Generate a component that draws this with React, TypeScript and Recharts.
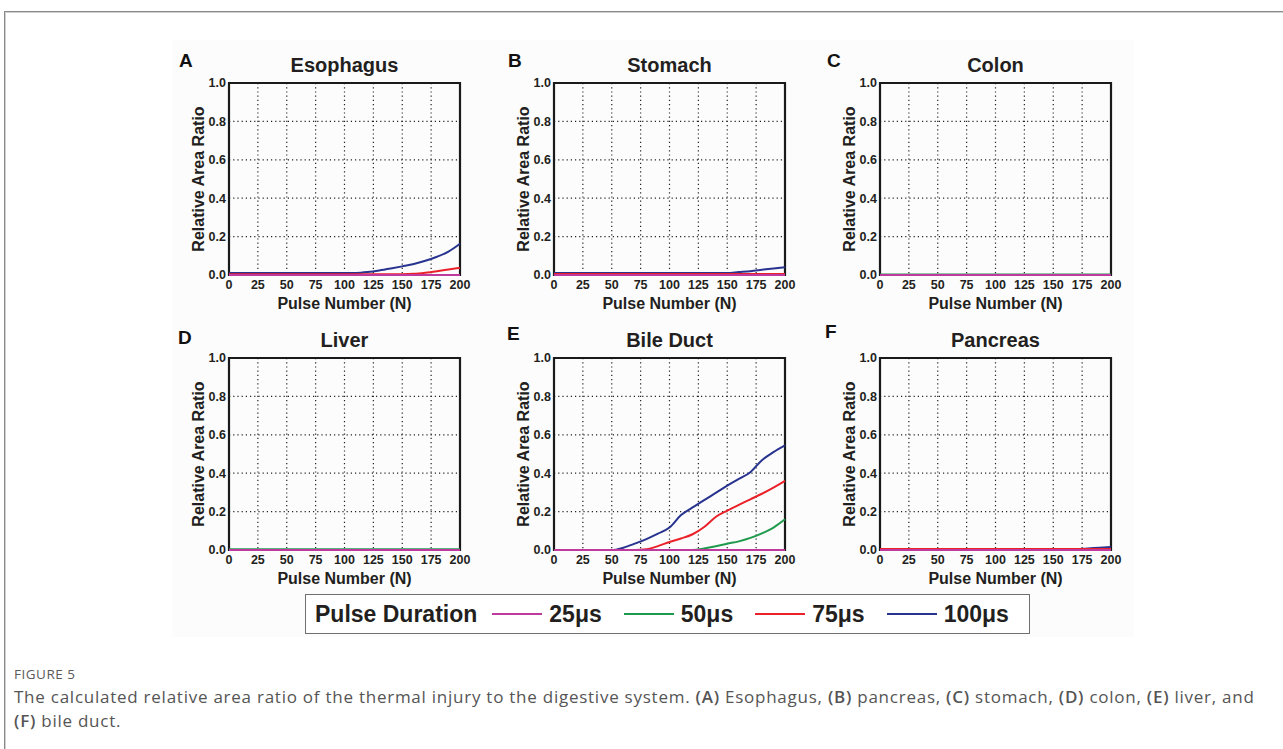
import React from "react";
import { LineChart, Line, XAxis, YAxis, CartesianGrid, ReferenceArea } from "recharts";

// pulse numbers sampled along the x axis
const pulseNumbers = [0, 10, 20, 30, 40, 50, 60, 70, 80, 90, 100, 110, 120, 130, 140, 150, 160, 170, 180, 190, 200];
const xTicks = [0, 25, 50, 75, 100, 125, 150, 175, 200];
const yTicks = [0, 0.2, 0.4, 0.6, 0.8, 1.0];

const durations = ["25μs", "50μs", "75μs", "100μs"];
const durationColors = ["#bf3a9e", "#1f9a4c", "#ea2129", "#27338f"];

// (A) Esophagus
const esophagus25 = [0, 0, 0, 0, 0, 0, 0, 0, 0, 0, 0, 0, 0, 0, 0, 0, 0, 0, 0, 0, 0];
const esophagus50 = [0, 0, 0, 0, 0, 0, 0, 0, 0, 0, 0, 0, 0, 0, 0, 0, 0, 0, 0, 0, 0];
const esophagus75 = [0.004, 0.004, 0.004, 0.004, 0.004, 0.004, 0.004, 0.004, 0.004, 0.004, 0.004, 0.004, 0.004, 0.004, 0.004, 0.004, 0.006, 0.012, 0.02, 0.029, 0.038];
const esophagus100 = [0.01, 0.01, 0.01, 0.01, 0.01, 0.01, 0.01, 0.01, 0.01, 0.01, 0.01, 0.011, 0.016, 0.024, 0.034, 0.045, 0.057, 0.074, 0.095, 0.122, 0.163];

// (B) Stomach
const stomach25 = [0, 0, 0, 0, 0, 0, 0, 0, 0, 0, 0, 0, 0, 0, 0, 0, 0, 0, 0, 0, 0];
const stomach50 = [0, 0, 0, 0, 0, 0, 0, 0, 0, 0, 0, 0, 0, 0, 0, 0, 0, 0, 0, 0, 0];
const stomach75 = [0.005, 0.005, 0.005, 0.005, 0.005, 0.005, 0.005, 0.005, 0.005, 0.005, 0.005, 0.005, 0.005, 0.005, 0.005, 0.005, 0.005, 0.005, 0.005, 0.005, 0.005];
const stomach100 = [0.01, 0.01, 0.01, 0.01, 0.01, 0.01, 0.01, 0.01, 0.01, 0.01, 0.01, 0.01, 0.01, 0.01, 0.01, 0.01, 0.015, 0.02, 0.027, 0.034, 0.04];

// (C) Colon
const colon25 = [0, 0, 0, 0, 0, 0, 0, 0, 0, 0, 0, 0, 0, 0, 0, 0, 0, 0, 0, 0, 0];
const colon50 = [0.003, 0.003, 0.003, 0.003, 0.003, 0.003, 0.003, 0.003, 0.003, 0.003, 0.003, 0.003, 0.003, 0.003, 0.003, 0.003, 0.003, 0.003, 0.003, 0.003, 0.003];
const colon75 = [0, 0, 0, 0, 0, 0, 0, 0, 0, 0, 0, 0, 0, 0, 0, 0, 0, 0, 0, 0, 0];
const colon100 = [0, 0, 0, 0, 0, 0, 0, 0, 0, 0, 0, 0, 0, 0, 0, 0, 0, 0, 0, 0, 0];

// (D) Liver
const liver25 = [0, 0, 0, 0, 0, 0, 0, 0, 0, 0, 0, 0, 0, 0, 0, 0, 0, 0, 0, 0, 0];
const liver50 = [0.004, 0.004, 0.004, 0.004, 0.004, 0.004, 0.004, 0.004, 0.004, 0.004, 0.004, 0.004, 0.004, 0.004, 0.004, 0.004, 0.004, 0.004, 0.004, 0.004, 0.004];
const liver75 = [0, 0, 0, 0, 0, 0, 0, 0, 0, 0, 0, 0, 0, 0, 0, 0, 0, 0, 0, 0, 0];
const liver100 = [0, 0, 0, 0, 0, 0, 0, 0, 0, 0, 0, 0, 0, 0, 0, 0, 0, 0, 0, 0, 0];

// (E) Bile duct
const bileDuct25 = [0, 0, 0, 0, 0, 0, 0, 0, 0, 0, 0, 0, 0, 0, 0, 0, 0, 0, 0, 0, 0];
const bileDuct50 = [0, 0, 0, 0, 0, 0, 0, 0, 0, 0, 0, 0, 0, 0.008, 0.02, 0.033, 0.045, 0.063, 0.087, 0.117, 0.16];
const bileDuct75 = [0, 0, 0, 0, 0, 0, 0, 0, 0.004, 0.02, 0.042, 0.06, 0.082, 0.12, 0.172, 0.205, 0.235, 0.264, 0.293, 0.325, 0.36];
const bileDuct100 = [0, 0, 0, 0, 0, 0, 0.012, 0.033, 0.057, 0.085, 0.117, 0.182, 0.222, 0.26, 0.297, 0.335, 0.37, 0.405, 0.468, 0.51, 0.545];

// (F) Pancreas
const pancreas25 = [0, 0, 0, 0, 0, 0, 0, 0, 0, 0, 0, 0, 0, 0, 0, 0, 0, 0, 0, 0, 0];
const pancreas50 = [0, 0, 0, 0, 0, 0, 0, 0, 0, 0, 0, 0, 0, 0, 0, 0, 0, 0, 0, 0, 0];
const pancreas75 = [0.005, 0.005, 0.005, 0.005, 0.005, 0.005, 0.005, 0.005, 0.005, 0.005, 0.005, 0.005, 0.005, 0.005, 0.005, 0.005, 0.005, 0.005, 0.005, 0.005, 0.005];
const pancreas100 = [0.005, 0.005, 0.005, 0.005, 0.005, 0.005, 0.005, 0.005, 0.005, 0.005, 0.005, 0.005, 0.005, 0.005, 0.005, 0.005, 0.005, 0.005, 0.008, 0.012, 0.015];

const panelLetters = ["A", "B", "C", "D", "E", "F"];
const panelTitles = ["Esophagus", "Stomach", "Colon", "Liver", "Bile Duct", "Pancreas"];
const panelSeries = [
  [esophagus25, esophagus50, esophagus75, esophagus100],
  [stomach25, stomach50, stomach75, stomach100],
  [colon25, colon50, colon75, colon100],
  [liver25, liver50, liver75, liver100],
  [bileDuct25, bileDuct50, bileDuct75, bileDuct100],
  [pancreas25, pancreas50, pancreas75, pancreas100],
];

// layout (page pixels)
const plotLefts = [229, 554, 880];
const plotTops = [83, 358];
const PLOT_W = 231;
const PLOT_H = 192;
const Y_AXIS_W = 70;
const X_AXIS_H = 55;
const TOP_PAD = 45;
const RIGHT_PAD = 15;
const letterSpots = [
  { left: 179, top: 51 },
  { left: 508, top: 51 },
  { left: 827, top: 51 },
  { left: 178, top: 328 },
  { left: 507, top: 324 },
  { left: 825, top: 322 },
];

const FONT = "'Liberation Sans', Arial, sans-serif";
const INK = "#231f20";

const seriesKeys = ["d25", "d50", "d75", "d100"];

function Panel({ index }: { index: number }) {
  const col = index % 3;
  const row = Math.floor(index / 3);
  const plotLeft = plotLefts[col];
  const plotTop = plotTops[row];
  const series = panelSeries[index];
  const data = pulseNumbers.map((x, i) => ({
    x,
    d25: series[0][i],
    d50: series[1][i],
    d75: series[2][i],
    d100: series[3][i],
  }));
  const tickStyle = { fill: INK, fontSize: 12.5, fontWeight: 700, fontFamily: FONT };

  return (
    <>
      <div
        style={{
          position: "absolute",
          left: letterSpots[index].left,
          top: letterSpots[index].top,
          fontFamily: FONT,
          fontWeight: 700,
          fontSize: 19,
          lineHeight: "20px",
          color: "#111",
        }}
      >
        {panelLetters[index]}
      </div>
      <div
        style={{
          position: "absolute",
          left: plotLeft,
          width: PLOT_W,
          top: plotTop - 30,
          textAlign: "center",
          fontFamily: FONT,
          fontWeight: 700,
          fontSize: 20,
          lineHeight: "24px",
          color: INK,
        }}
      >
        {panelTitles[index]}
      </div>
      <div style={{ position: "absolute", left: plotLeft - Y_AXIS_W, top: plotTop - TOP_PAD }}>
        <LineChart
          width={Y_AXIS_W + PLOT_W + RIGHT_PAD}
          height={TOP_PAD + PLOT_H + X_AXIS_H}
          data={data}
          margin={{ top: TOP_PAD, right: RIGHT_PAD, bottom: 0, left: 0 }}
        >
          <CartesianGrid stroke="#222" strokeWidth={1.2} strokeDasharray="1.2 3" />
          <XAxis
            dataKey="x"
            type="number"
            domain={[0, 200]}
            ticks={xTicks}
            height={X_AXIS_H}
            axisLine={false}
            tickLine={false}
            tickSize={0}
            tickMargin={5}
            tick={tickStyle}
            interval={0}
            label={{
              value: "Pulse Number (N)",
              position: "insideBottom",
              offset: 21,
              style: { fill: INK, fontSize: 16, fontWeight: 700, fontFamily: FONT },
            }}
          />
          <YAxis
            type="number"
            domain={[0, 1]}
            ticks={yTicks}
            width={Y_AXIS_W}
            axisLine={false}
            tickLine={false}
            tickSize={0}
            tickMargin={3}
            tick={tickStyle}
            interval={0}
            tickFormatter={(v: number) => v.toFixed(1)}
            label={{
              value: "Relative Area Ratio",
              angle: -90,
              position: "insideLeft",
              offset: 39,
              style: { fill: INK, fontSize: 16, fontWeight: 700, fontFamily: FONT, textAnchor: "middle" },
            }}
          />
          <ReferenceArea x1={0} x2={200} y1={0} y2={1} fill="none" stroke="#1a1a1a" strokeWidth={2.2} ifOverflow="visible" />
          {[3, 2, 1, 0].map((k) => (
            <Line
              key={seriesKeys[k]}
              type="monotone"
              dataKey={seriesKeys[k]}
              stroke={durationColors[k]}
              strokeWidth={2}
              dot={false}
              isAnimationActive={false}
            />
          ))}
        </LineChart>
      </div>
    </>
  );
}

function LegendBox() {
  return (
    <div
      style={{
        position: "absolute",
        left: 305,
        top: 594,
        width: 725,
        height: 40,
        border: "1.5px solid #6f6f6f",
        background: "#fff",
        display: "flex",
        alignItems: "center",
        paddingLeft: 9,
        boxSizing: "border-box",
        fontFamily: FONT,
        fontWeight: 700,
        fontSize: 23,
        color: INK,
      }}
    >
      <span>Pulse Duration</span>
      {durations.map((d, i) => (
        <span key={d} style={{ display: "flex", alignItems: "center", marginLeft: i === 0 ? 15 : 22 }}>
          <span style={{ display: "inline-block", width: 50, height: 2, background: durationColors[i] }} />
          <span style={{ marginLeft: 7 }}>{d}</span>
        </span>
      ))}
    </div>
  );
}

export default function App() {
  return (
    <div style={{ position: "absolute", left: 0, top: 0, width: 1283, height: 749, background: "#fff", overflow: "hidden" }}>
      <div
        style={{
          position: "absolute",
          left: 4,
          top: 11,
          width: 1400,
          height: 800,
          borderTop: "1px solid #8a8a8a",
          borderLeft: "1px solid #8a8a8a",
          boxShadow: "inset 1px 1px 0 #d0d0d0",
        }}
      />
      <div style={{ position: "absolute", left: 172, top: 40, width: 962, height: 597, background: "#fcfcfc" }} />
      {[0, 1, 2, 3, 4, 5].map((i) => (
        <Panel key={i} index={i} />
      ))}
      <LegendBox />
      <div
        style={{
          position: "absolute",
          left: 14,
          top: 665,
          fontFamily: "'Open Sans', sans-serif",
          fontSize: 13.5,
          letterSpacing: 0.5,
          lineHeight: "18px",
          color: "#5a5a5a",
        }}
      >
        FIGURE 5
      </div>
      <div
        style={{
          position: "absolute",
          left: 14,
          top: 685,
          fontFamily: "'Open Sans', sans-serif",
          fontSize: 17,
          letterSpacing: 0.75,
          lineHeight: "23.5px",
          color: "#555",
          whiteSpace: "nowrap",
        }}
      >
        The calculated relative area ratio of the thermal injury to the digestive system. <b style={{ fontWeight: 600 }}>(A)</b> Esophagus,{" "}
        <b style={{ fontWeight: 600 }}>(B)</b> pancreas, <b style={{ fontWeight: 600 }}>(C)</b> stomach,{" "}
        <b style={{ fontWeight: 600 }}>(D)</b> colon, <b style={{ fontWeight: 600 }}>(E)</b> liver, and
        <br />
        <b style={{ fontWeight: 600 }}>(F)</b> bile duct.
      </div>
    </div>
  );
}
